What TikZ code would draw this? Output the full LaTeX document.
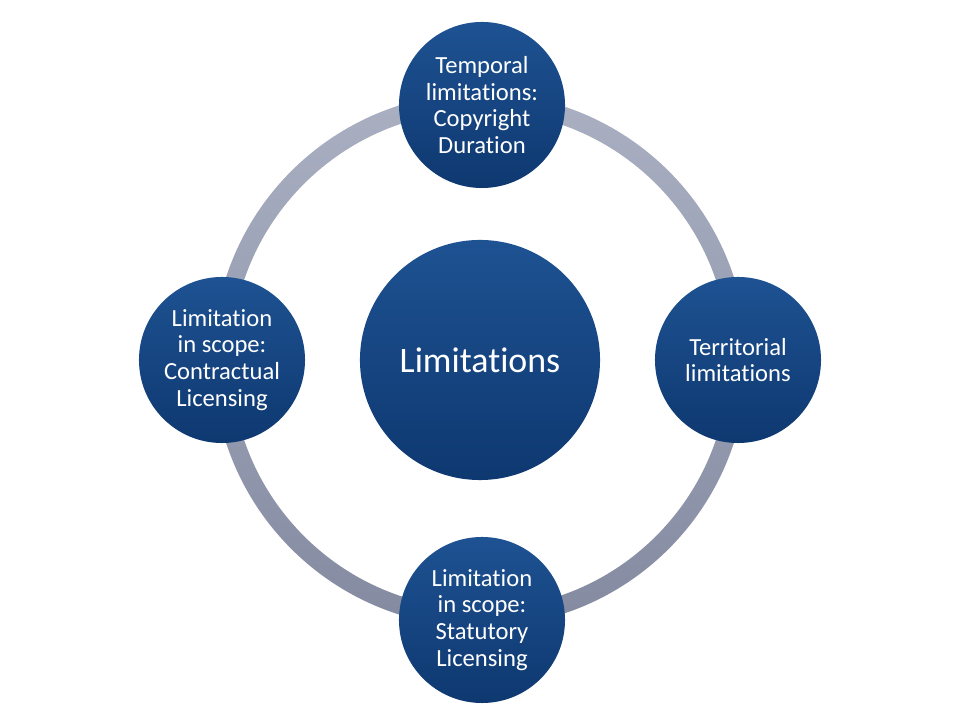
\documentclass[tikz,border=0pt]{standalone}
\usepackage{fontspec}
\setmainfont{Carlito}[Ligatures=NoCommon]
\usetikzlibrary{positioning}
\definecolor{DiscTop}{RGB}{30,82,146}
\definecolor{DiscBot}{RGB}{14,56,112}
\definecolor{RingTop}{RGB}{170,176,194}
\definecolor{RingBot}{RGB}{132,138,160}

\begin{document}
\begin{tikzpicture}[x=0.025cm,y=0.025cm,
    disc/.style={circle,top color=DiscTop,bottom color=DiscBot,text=white,
      align=center,inner sep=0pt},
    small/.style={disc,minimum size=4.15cm,font=\fontsize{17.5}{19}\selectfont},
    big/.style={disc,minimum size=6cm,font=\fontsize{25.5}{28}\selectfont}]
      \useasboundingbox (-480,-360) rectangle (480,360);
      % ring behind the discs
      \shade[top color=RingTop,bottom color=RingBot,even odd rule]
        (0,0) circle[radius=267] (0,0) circle[radius=249];
      \node[big] (limits) at (0,0) {Limitations};
      \node[small] (temporal) at (2,255) {Temporal\\limitations:\\Copyright\\Duration};
      \node[small] (territorial) at (258,0) {Territorial\\limitations};
      \node[small] (statutory) at (2,-260) {Limitation\\in scope:\\Statutory\\Licensing};
      \node[small] (contractual) at (-258,0) {Limitation\\in scope:\\Contractual\\Licensing};
    \end{tikzpicture}
\end{document}
